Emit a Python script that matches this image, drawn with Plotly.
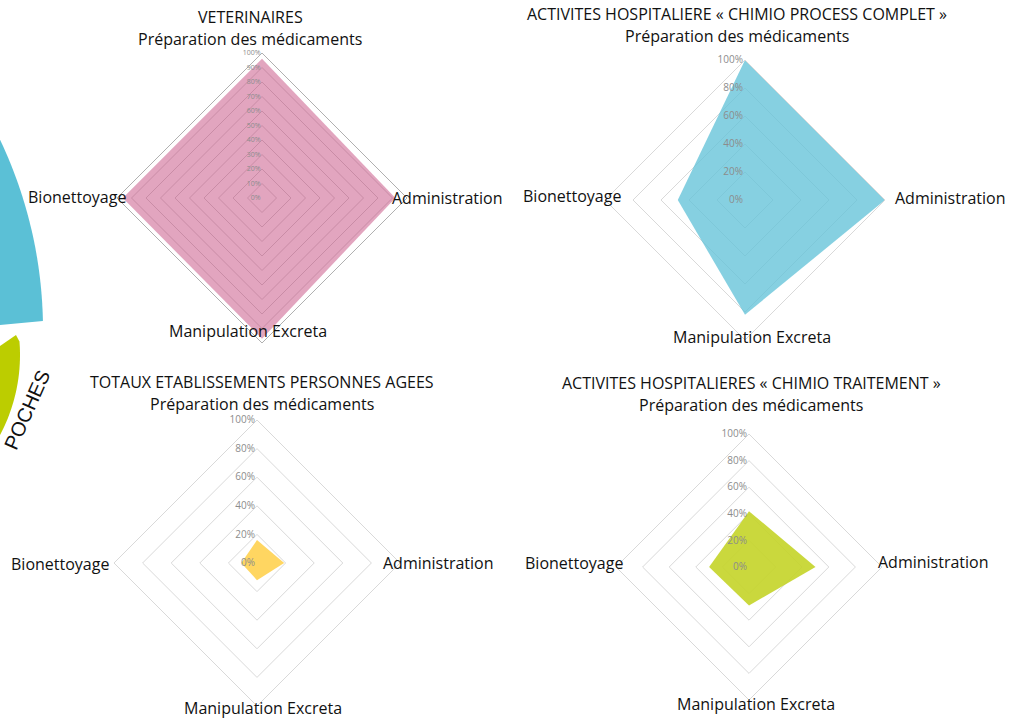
import numpy as np
import plotly.graph_objects as go

W, H = 1012, 721

categories = ["Préparation des médicaments", "Administration", "Manipulation Excreta", "Bionettoyage"]

titles = [
    "VETERINAIRES",
    "ACTIVITES HOSPITALIERE « CHIMIO PROCESS COMPLET »",
    "TOTAUX ETABLISSEMENTS PERSONNES AGEES",
    "ACTIVITES HOSPITALIERES « CHIMIO TRAITEMENT »",
]

veterinaires = [96, 92, 97, 96]
chimio_complet = [100, 100, 82, 48]
personnes_agees = [16, 19, 12, 11]
chimio_traitement = [42, 50, 29, 30]

series = [veterinaires, chimio_complet, personnes_agees, chimio_traitement]
fills = ["rgba(205,100,145,0.58)", "rgba(100,195,216,0.78)", "rgba(255,210,80,0.9)", "rgba(196,212,40,0.9)"]
dticks = [10, 20, 20, 20]
tick_fs = [7, 10, 10, 10]
grid_cols = ["#c4c4c4", "#d9d9d9", "#d9d9d9", "#d9d9d9"]
outer_cols = ["#b0b0b0", "#d9d9d9", "#d9d9d9", "#d9d9d9"]

# layout geometry (pixels): centre x, centre y, radius
geo = [(262, 198, 145), (745, 200, 140), (257, 563, 143), (749, 567, 133)]

# label placements (pixels)
title_pos = [(250, 17), (737, 14), (262, 382), (751, 383)]
prep_pos = [(250, 39), (737, 36), (262, 404), (751, 405)]
bio_right = [(128, 197), (623, 196), (111, 564), (625, 563)]
adm_left = [(390, 198), (893, 198), (381, 563), (876, 562)]
manip_pos = [(248, 331), (752, 337), (263, 708), (756, 704)]


def px(x):
    return x / W


def py(y):
    return 1 - y / H


fig = go.Figure()
FONT = "Open Sans"
annotations = []

for i, vals in enumerate(series):
    name = "polar" if i == 0 else f"polar{i+1}"
    cx, cy, r = geo[i]
    fig.add_trace(go.Scatterpolar(
        r=vals + vals[:1],
        theta=categories + categories[:1],
        fill="toself",
        fillcolor=fills[i],
        line=dict(width=0, color=fills[i]),
        mode="lines",
        subplot=name,
        hoverinfo="r+theta",
        showlegend=False,
    ))
    fig.layout[name] = dict(
        domain=dict(x=[px(cx - r), px(cx + r)], y=[py(cy + r), py(cy - r)]),
        bgcolor="rgba(0,0,0,0)",
        gridshape="linear",
        radialaxis=dict(
            range=[0, 100],
            tickvals=list(range(0, 101, dticks[i])),
            ticktext=[f"{v}%" for v in range(0, 101, dticks[i])],
            angle=90,
            side="counterclockwise",
            showline=False,
            ticks="",
            gridcolor=grid_cols[i],
            gridwidth=1,
            tickfont=dict(size=tick_fs[i], color="#8c8c8c", family=FONT),
            tickangle=90,
        ),
        angularaxis=dict(
            type="category",
            categoryarray=categories,
            rotation=90,
            direction="clockwise",
            showgrid=False,
            showticklabels=False,
            ticks="",
            linecolor=outer_cols[i],
            linewidth=1,
        ),
    )
    annotations += [
        dict(x=px(title_pos[i][0]), y=py(title_pos[i][1]), text=titles[i], xanchor="center", yanchor="middle"),
        dict(x=px(prep_pos[i][0]), y=py(prep_pos[i][1]), text=categories[0], xanchor="center", yanchor="middle"),
        dict(x=px(bio_right[i][0]), y=py(bio_right[i][1]), text=categories[3], xanchor="right", yanchor="middle"),
        dict(x=px(adm_left[i][0]), y=py(adm_left[i][1]), text=categories[1], xanchor="left", yanchor="middle"),
        dict(x=px(manip_pos[i][0]), y=py(manip_pos[i][1]), text=categories[2], xanchor="center", yanchor="middle"),
    ]

for a in annotations:
    a.update(xref="paper", yref="paper", showarrow=False, font=dict(family=FONT, size=16, color="#111111"))

# decorative partial ring on the left edge
def arc_pts(cx, cy, R, y0, y1, n=30):
    ys = np.linspace(y0, y1, n)
    xs = cx + np.sqrt(R ** 2 - (ys - cy) ** 2)
    return list(zip(xs, ys))

blue = [(0, 140)] + arc_pts(-400, 330, 443, 140, 321) + [(0, 325)]
green = [(0, 346), (16, 335)] + arc_pts(-150, 355, 170, 338, 440)[1:]


def to_path(pts):
    s = "M " + " L ".join(f"{px(x):.5f},{py(y):.5f}" for x, y in pts) + " Z"
    return s

shapes = [
    dict(type="path", xref="paper", yref="paper", path=to_path(blue), fillcolor="#5bc0d6", line=dict(width=0), layer="below"),
    dict(type="path", xref="paper", yref="paper", path=to_path(green), fillcolor="#bccd00", line=dict(width=0), layer="below"),
]

annotations.append(dict(x=px(27), y=py(410), xref="paper", yref="paper", text="POCHES", showarrow=False,
                        xanchor="center", yanchor="middle",
                        textangle=-66, font=dict(family="Liberation Sans", size=20, color="#111111")))

fig.update_layout(
    width=W, height=H,
    margin=dict(l=0, r=0, t=0, b=0),
    paper_bgcolor="white",
    plot_bgcolor="white",
    annotations=annotations,
    shapes=shapes,
    showlegend=False,
)

fig.write_html("out.html", config={"displayModeBar": False},
               post_script="document.body.style.margin='0';document.body.style.overflow='hidden';")
